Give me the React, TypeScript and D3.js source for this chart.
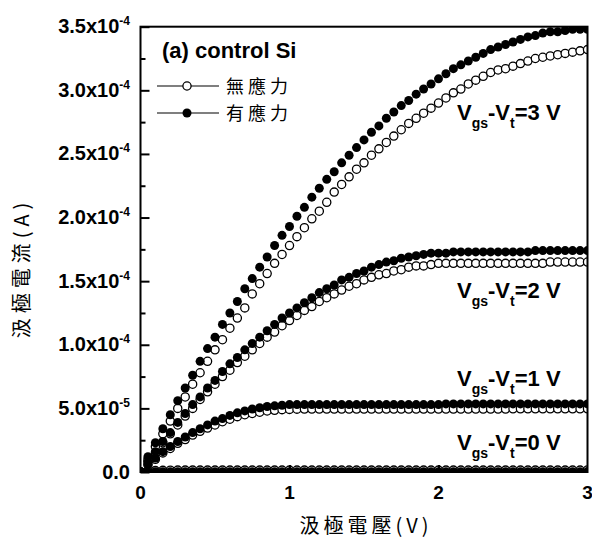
import * as d3 from "d3";
import { useEffect, useRef } from "react";

// drain voltage sweep (V)
const vds = [
  0, 0.05, 0.1, 0.15, 0.2, 0.25, 0.3, 0.35, 0.4, 0.45,
  0.5, 0.55, 0.6, 0.65, 0.7, 0.75, 0.8, 0.85, 0.9, 0.95,
  1, 1.05, 1.1, 1.15, 1.2, 1.25, 1.3, 1.35, 1.4, 1.45,
  1.5, 1.55, 1.6, 1.65, 1.7, 1.75, 1.8, 1.85, 1.9, 1.95,
  2, 2.05, 2.1, 2.15, 2.2, 2.25, 2.3, 2.35, 2.4, 2.45,
  2.5, 2.55, 2.6, 2.65, 2.7, 2.75, 2.8, 2.85, 2.9, 2.95,
  3,
];

// drain current in units of 1e-5 A
// 無應力 (open markers)
const free0 = [
  0, 0.08, 0.11, 0.13, 0.14, 0.15, 0.15, 0.15, 0.15, 0.15,
  0.15, 0.15, 0.15, 0.15, 0.15, 0.15, 0.15, 0.15, 0.15, 0.15,
  0.15, 0.15, 0.15, 0.15, 0.15, 0.15, 0.15, 0.15, 0.15, 0.15,
  0.15, 0.15, 0.15, 0.15, 0.15, 0.15, 0.15, 0.15, 0.15, 0.15,
  0.15, 0.15, 0.15, 0.15, 0.15, 0.15, 0.15, 0.15, 0.15, 0.15,
  0.15, 0.15, 0.15, 0.15, 0.15, 0.15, 0.15, 0.15, 0.15, 0.15,
  0.16,
];
const free1 = [
  0, 0.55, 1.0, 1.5, 1.85, 2.25, 2.55, 2.9, 3.2, 3.45,
  3.7, 3.95, 4.15, 4.35, 4.5, 4.6, 4.7, 4.8, 4.85, 4.9,
  4.92, 4.94, 4.95, 4.95, 4.95, 4.95, 4.95, 4.95, 4.95, 4.95,
  4.95, 4.95, 4.95, 4.95, 4.95, 4.95, 4.95, 4.95, 4.95, 4.95,
  4.95, 4.95, 4.95, 4.95, 4.95, 4.95, 4.95, 4.95, 4.95, 4.95,
  4.97, 4.97, 4.97, 4.97, 4.97, 4.97, 4.97, 4.97, 4.97, 4.97,
  4.97,
];
const free2 = [
  0, 0.8, 1.5, 2.3, 3.0, 3.7, 4.4, 5.0, 5.7, 6.3,
  6.9, 7.5, 8.0, 8.6, 9.1, 9.6, 10.1, 10.6, 11.0, 11.5,
  11.9, 12.3, 12.7, 13.0, 13.4, 13.7, 14.0, 14.3, 14.6, 14.8,
  15.1, 15.3, 15.5, 15.6, 15.8, 15.9, 16.1, 16.2, 16.2, 16.3,
  16.4, 16.4, 16.4, 16.4, 16.4, 16.4, 16.4, 16.4, 16.4, 16.4,
  16.4, 16.4, 16.4, 16.4, 16.4, 16.5, 16.5, 16.5, 16.5, 16.5,
  16.5,
];
const free3 = [
  0, 1.0, 2.0, 3.0, 4.0, 5.0, 5.9, 6.9, 7.8, 8.7,
  9.6, 10.4, 11.3, 12.1, 12.9, 14.0, 14.8, 15.6, 16.4, 17.1,
  17.8, 18.5, 19.2, 19.9, 20.5, 21.2, 22.0, 22.6, 23.2, 23.8,
  24.3, 24.9, 25.4, 25.9, 26.4, 26.9, 27.4, 27.8, 28.2, 28.6,
  29.0, 29.4, 29.8, 30.1, 30.5, 30.8, 31.1, 31.4, 31.6, 31.7,
  31.9, 32.1, 32.3, 32.5, 32.6, 32.7, 32.8, 32.9, 33.0, 33.1,
  33.2,
];

// 有應力 (filled markers)
const stress0 = [
  0, 0.01, 0.02, 0.02, 0.02, 0.02, 0.02, 0.02, 0.02, 0.02,
  0.02, 0.02, 0.02, 0.02, 0.02, 0.02, 0.02, 0.02, 0.02, 0.02,
  0.02, 0.02, 0.02, 0.02, 0.02, 0.02, 0.02, 0.02, 0.02, 0.02,
  0.02, 0.02, 0.02, 0.02, 0.02, 0.02, 0.02, 0.02, 0.02, 0.02,
  0.02, 0.02, 0.02, 0.02, 0.02, 0.02, 0.02, 0.02, 0.02, 0.02,
  0.02, 0.02, 0.02, 0.02, 0.02, 0.02, 0.02, 0.02, 0.02, 0.02,
  0.03,
];
const stress1 = [
  0, 0.6, 1.1, 1.6, 2.0, 2.4, 2.75, 3.1, 3.4, 3.7,
  4.0, 4.2, 4.45, 4.65, 4.8, 4.95, 5.05, 5.15, 5.2, 5.25,
  5.3, 5.3, 5.3, 5.3, 5.3, 5.3, 5.3, 5.3, 5.3, 5.3,
  5.3, 5.3, 5.3, 5.3, 5.3, 5.3, 5.3, 5.3, 5.3, 5.3,
  5.3, 5.35, 5.35, 5.35, 5.35, 5.35, 5.35, 5.35, 5.35, 5.35,
  5.35, 5.35, 5.35, 5.35, 5.35, 5.35, 5.35, 5.35, 5.35, 5.35,
  5.35,
];
const stress2 = [
  0, 0.8, 1.6, 2.4, 3.1, 3.9, 4.6, 5.3, 5.9, 6.6,
  7.2, 7.9, 8.5, 9.0, 9.6, 10.1, 10.6, 11.1, 11.6, 12.1,
  12.5, 12.9, 13.3, 13.7, 14.1, 14.4, 14.7, 15.1, 15.3, 15.6,
  15.8, 16.1, 16.3, 16.5, 16.6, 16.8, 16.9, 17.0, 17.1, 17.2,
  17.2, 17.2, 17.3, 17.3, 17.3, 17.3, 17.3, 17.3, 17.3, 17.3,
  17.3, 17.3, 17.3, 17.4, 17.4, 17.4, 17.4, 17.4, 17.4, 17.4,
  17.4,
];
const stress3 = [
  0, 1.2, 2.3, 3.4, 4.5, 5.6, 6.6, 7.6, 8.7, 9.7,
  10.6, 11.6, 12.5, 13.4, 14.4, 15.2, 16.1, 16.9, 17.8, 18.6,
  19.3, 20.1, 20.8, 21.6, 22.3, 23.0, 23.6, 24.3, 24.9, 25.5,
  26.1, 26.7, 27.2, 27.8, 28.3, 28.8, 29.2, 29.7, 30.1, 30.5,
  30.9, 31.3, 31.7, 32.0, 32.3, 32.6, 32.9, 33.2, 33.4, 33.6,
  33.8, 34.0, 34.2, 34.3, 34.5, 34.6, 34.6, 34.7, 34.8, 34.8,
  34.8,
];

const yTicks = [0, 0.5e-4, 1.0e-4, 1.5e-4, 2.0e-4, 2.5e-4, 3.0e-4, 3.5e-4];
const yTickBase = ["0.0", "5.0x10", "1.0x10", "1.5x10", "2.0x10", "2.5x10", "3.0x10", "3.5x10"];
const yTickExp = ["", "-5", "-4", "-4", "-4", "-4", "-4", "-4"];
const yMinor = [0.25e-4, 0.75e-4, 1.25e-4, 1.75e-4, 2.25e-4, 2.75e-4, 3.25e-4];
const xTicks = [0, 1, 2, 3];
const curveLevels = ["3", "2", "1", "0"];
const legendNames = ["無應力", "有應力"];

const W = 592;
const H = 545;
const left = 140.5;
const right = 587.5;
const top = 26.7;
const bottom = 472;

const latin = "'Liberation Sans', Arial, sans-serif";
const cjk = "'Noto Sans CJK TC', 'Noto Sans CJK SC', sans-serif";

export default function App() {
  const ref = useRef<SVGSVGElement>(null);

  useEffect(() => {
    const svg = d3.select(ref.current);
    svg.selectAll("*").remove();

    const x = d3.scaleLinear().domain([0, 3]).range([left, right]);
    const y = d3.scaleLinear().domain([0, 3.5e-4]).range([bottom, top]);

    svg
      .append("clipPath")
      .attr("id", "plot-clip")
      .append("rect")
      .attr("x", left)
      .attr("y", top)
      .attr("width", right - left)
      .attr("height", bottom - top);

    const plot = svg.append("g").attr("clip-path", "url(#plot-clip)");

    // open markers first, filled ones are drawn over them
    [free0, free1, free2, free3].forEach((vals) => {
      plot
        .append("g")
        .selectAll("circle")
        .data(vals)
        .enter()
        .append("circle")
        .attr("cx", (d, i) => x(vds[i]))
        .attr("cy", (d) => y(d * 1e-5))
        .attr("r", 4.1)
        .attr("fill", "#fff")
        .attr("stroke", "#000")
        .attr("stroke-width", 1.3);
    });
    [stress0, stress1, stress2, stress3].forEach((vals) => {
      plot
        .append("g")
        .selectAll("circle")
        .data(vals)
        .enter()
        .append("circle")
        .attr("cx", (d, i) => x(vds[i]))
        .attr("cy", (d) => y(d * 1e-5))
        .attr("r", 4.5)
        .attr("fill", "#000");
    });

    // frame
    svg
      .append("rect")
      .attr("x", left)
      .attr("y", top)
      .attr("width", right - left)
      .attr("height", bottom - top)
      .attr("fill", "none")
      .attr("stroke", "#000")
      .attr("stroke-width", 2);

    // inward ticks
    const yMajor = svg
      .append("g")
      .attr("transform", `translate(${left},0)`)
      .call(d3.axisLeft(y).tickValues(yTicks).tickSize(-9).tickFormat(() => ""));
    const yMin = svg
      .append("g")
      .attr("transform", `translate(${left},0)`)
      .call(d3.axisLeft(y).tickValues(yMinor).tickSize(-5).tickFormat(() => ""));
    const xMajor = svg
      .append("g")
      .attr("transform", `translate(0,${bottom})`)
      .call(d3.axisBottom(x).tickValues([1, 2]).tickSize(-7).tickFormat(() => ""));
    [yMajor, yMin, xMajor].forEach((g) => {
      g.select(".domain").remove();
      g.selectAll("line").attr("stroke-width", 2);
    });

    // y tick labels
    yTicks.forEach((v, i) => {
      const t = svg
        .append("text")
        .attr("x", 130)
        .attr("y", y(v) + 6.5)
        .attr("text-anchor", "end")
        .attr("font-family", latin)
        .attr("font-weight", "bold")
        .attr("font-size", 20)
        .text(yTickBase[i]);
      if (yTickExp[i]) {
        t.append("tspan").attr("dy", -8).attr("font-size", 12).text(yTickExp[i]);
      }
    });

    // x tick labels
    svg
      .append("g")
      .selectAll("text")
      .data(xTicks)
      .enter()
      .append("text")
      .attr("x", (d) => x(d))
      .attr("y", 499)
      .attr("text-anchor", "middle")
      .attr("font-family", latin)
      .attr("font-weight", "bold")
      .attr("font-size", 19)
      .text((d) => d);

    // axis titles
    svg
      .append("text")
      .attr("x", 366)
      .attr("y", 533)
      .attr("text-anchor", "middle")
      .attr("font-family", cjk)
      .attr("font-size", 20)
      .attr("letter-spacing", 4)
      .text("汲極電壓(V)");
    svg
      .append("text")
      .attr("transform", "translate(29,268) rotate(-90)")
      .attr("text-anchor", "middle")
      .attr("font-family", cjk)
      .attr("font-size", 20)
      .attr("letter-spacing", 5)
      .text("汲極電流(A)");

    // legend
    svg
      .append("text")
      .attr("x", 162)
      .attr("y", 58)
      .attr("font-family", latin)
      .attr("font-weight", "bold")
      .attr("font-size", 22)
      .text("(a) control Si");
    const rows = [86, 113];
    legendNames.forEach((name, i) => {
      svg
        .append("line")
        .attr("x1", 157)
        .attr("x2", 219)
        .attr("y1", rows[i])
        .attr("y2", rows[i])
        .attr("stroke", "#000")
        .attr("stroke-width", 1.2);
      svg
        .append("circle")
        .attr("cx", 187)
        .attr("cy", rows[i])
        .attr("r", i === 0 ? 4.1 : 4.5)
        .attr("fill", i === 0 ? "#fff" : "#000")
        .attr("stroke", "#000")
        .attr("stroke-width", i === 0 ? 1.3 : 0);
      svg
        .append("text")
        .attr("x", 226)
        .attr("y", rows[i] + 7)
        .attr("font-family", cjk)
        .attr("font-size", 18)
        .attr("letter-spacing", 4)
        .text(name);
    });

    // Vgs-Vt labels
    const baselines = [120, 298, 386, 450];
    curveLevels.forEach((lv, i) => {
      const t = svg
        .append("text")
        .attr("x", 457)
        .attr("y", baselines[i])
        .attr("font-family", latin)
        .attr("font-weight", "bold")
        .attr("font-size", 22)
        .text("V");
      t.append("tspan").attr("dy", 8).attr("font-size", 14).text("gs");
      t.append("tspan").attr("dy", -8).text("-V");
      t.append("tspan").attr("dy", 8).attr("font-size", 14).text("t");
      t.append("tspan").attr("dy", -8).text(`=${lv} V`);
    });
  }, []);

  return (
    <svg
      ref={ref}
      width={W}
      height={H}
      style={{ position: "absolute", left: 0, top: 0, background: "#fff" }}
    />
  );
}
